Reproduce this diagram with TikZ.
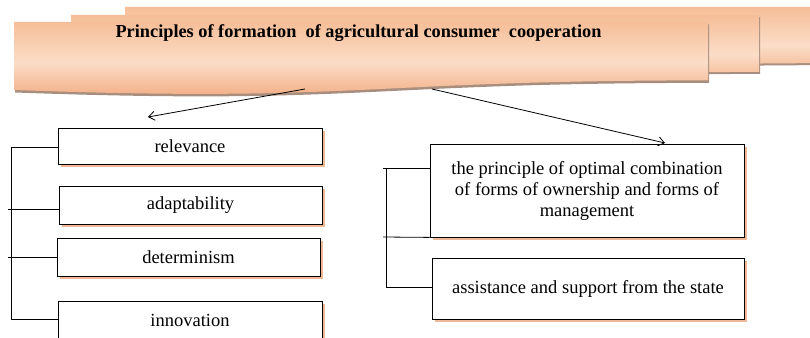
\documentclass[tikz,border=0pt]{standalone}
\usepackage{fontspec}
\setmainfont{Liberation Serif}
\usetikzlibrary{arrows.meta,shadows,calc}
\definecolor{peachL}{HTML}{FBDDC8}
\definecolor{peachM}{HTML}{F6BE98}
\definecolor{peachD}{HTML}{F1A679}
\definecolor{ribshadow}{HTML}{A88E7E}
\definecolor{boxshadow}{HTML}{EDB996}
\newcommand{\docpath}[4]{(#1,#3) -- (#2,#3) -- (#2,{#3+0.802*#4})
  .. controls ({(#1+#2)/2},{#3+0.802*#4}) and ({(#1+#2)/2},{#3+1.107*#4}) .. (#1,{#3+0.934*#4}) -- cycle}
\tikzset{
  ribbon/.style={top color=peachM, bottom color=peachD, middle color=peachL},
  pbox/.style={draw=black, line width=0.8pt, fill=white, inner sep=2pt,
    drop shadow={shadow xshift=2.5pt, shadow yshift=-2.5pt, fill=boxshadow, opacity=1},
    font=\fontsize{18.5}{21}\selectfont, align=center},
  conn/.style={line width=0.8pt},
  arr/.style={line width=0.8pt, -{Straight Barb[length=6pt,width=9pt]}}
}
\begin{document}
\begin{tikzpicture}[x=1pt,y=-1pt]
\useasboundingbox (0,0) rectangle (810,337);
% back ribbon
\fill[ribshadow] [shift={(1,2)}] \docpath{125}{840}{7}{70};
\shade[ribbon] \docpath{125}{840}{7}{70};
% middle ribbon
\fill[ribshadow] [shift={(1,2)}] \docpath{71}{759}{15}{71};
\shade[ribbon] \docpath{71}{759}{15}{71};
% front ribbon
\fill[ribshadow] [shift={(1,2.5)}] \docpath{14}{708}{22}{72.8};
\shade[ribbon] \docpath{14}{708}{22}{72.8};
\node[font=\bfseries\fontsize{18.3}{20}\selectfont, inner sep=0pt] (title) at (358.5,33) {Principles of formation\ \ of agricultural consumer\ \ cooperation};
% left boxes
\node[pbox, minimum width=264pt, minimum height=36pt] (rel) at (190,146) {relevance};
\node[pbox, minimum width=263pt, minimum height=38pt] (ada) at (190.5,205) {adaptability};
\node[pbox, minimum width=263pt, minimum height=38pt] (det) at (188.5,257) {determinism};
\node[pbox, minimum width=264pt, minimum height=39pt] (inn) at (190,320.5) {innovation};
% right boxes
\node[pbox, minimum width=314pt, minimum height=93pt] (opt) at (587,190.5) {the principle of optimal combination\\of forms of ownership and forms of\\management};
\node[pbox, minimum width=312pt, minimum height=61pt] (ass) at (588,288.5) {assistance and support from the state};
% arrows
\coordinate (s1) at (305,89);
\coordinate (t1) at (148,117);
\coordinate (s2) at (432,89);
\coordinate (t2) at (665,143);
\draw[arr] (s1) -- (t1);
\draw[arr] (s2) -- (t2);
% left bracket
\coordinate (lt) at (11,147);
\coordinate (lb) at (11,319);
\coordinate (la) at (8,209);
\coordinate (ld) at (8,257);
\draw[conn] (rel.west |- lt) -- (lt) -- (lb) -- (inn.west |- lb);
\draw[conn] (la) -- (ada.west |- la);
\draw[conn] (ld) -- (det.west);
% right bracket
\coordinate (rt) at (383,168);
\coordinate (rv) at (386,168);
\coordinate (rm) at (383,237);
\coordinate (rb) at (386,287);
\draw[conn] (rt) -- (opt.west |- rt);
\draw[conn] (rm) -- (opt.south west);
\draw[conn] (rv) -- (rb) -- (ass.west |- rb);
\end{tikzpicture}
\end{document}
